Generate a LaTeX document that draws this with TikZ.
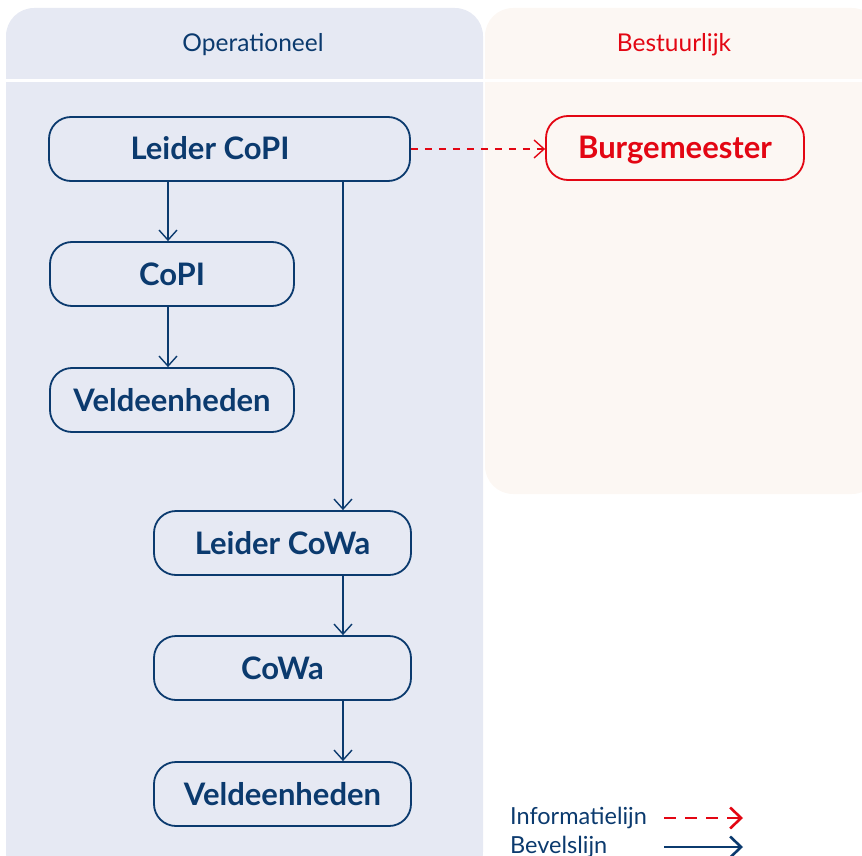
\documentclass[tikz,border=0pt]{standalone}
\usepackage{fontspec}
\setmainfont{Lato}
\usetikzlibrary{arrows.meta}
\definecolor{navy}{HTML}{0B3A6E}
\definecolor{bred}{HTML}{E30613}
\definecolor{opbg}{HTML}{E6E9F3}
\definecolor{bsbg}{HTML}{FCF7F3}
\tikzset{
  box/.style={draw=navy, line width=1.8pt, rounded corners=22pt, fill=opbg,
    minimum height=64pt, inner sep=0pt, text=navy, text height=22pt, text depth=0pt,
    font=\fontsize{31}{34}\selectfont\bfseries},
  redbox/.style={box, draw=bred, fill=bsbg, text=bred},
  cmd/.style={draw=navy, line width=1.4pt, -{Straight Barb[length=10pt,width=18pt,line width=1.4pt]}},
  info/.style={draw=bred, line width=1.4pt, dash pattern=on 7.5pt off 6.5pt, -{Straight Barb[length=10pt,width=18pt,line width=1.4pt]}},
  lgcmd/.style={draw=navy, line width=2.6pt, -{Straight Barb[length=11pt,width=21pt,line width=2.6pt]}},
  lginfo/.style={draw=bred, line width=2.6pt, dash pattern=on 12pt off 9pt, -{Straight Barb[length=11pt,width=21pt,line width=2.6pt]}},
  head/.style={font=\fontsize{24.5}{28}\selectfont, inner sep=0pt},
  legend/.style={font=\fontsize{23.5}{27}\selectfont, text=navy, inner sep=0pt, anchor=west}
}
\begin{document}
\begin{tikzpicture}[x=1pt,y=-1pt]
\useasboundingbox (0,0) rectangle (862,856);
% panels
\fill[opbg, rounded corners=28pt] (6,8) rectangle (483,880);
\fill[bsbg, rounded corners=28pt] (485,8) rectangle (880,494);
\draw[white, line width=3pt] (6,80.5) -- (862,80.5);
\node[head, text=navy] (hop) at (253,45) {Operationeel};
\node[head, text=bred] (hbs) at (674,45) {Bestuurlijk};
% nodes
\node[box, minimum width=361pt] (lcopi) at (229.5,149) {Leider CoPI\hspace*{39pt}};
\node[box, minimum width=244pt] (copi) at (172,274) {CoPI};
\node[box, minimum width=244pt] (veld1) at (172,400) {Veldeenheden};
\node[redbox, minimum width=258pt] (burg) at (675,148) {Burgemeester};
\node[box, minimum width=257pt] (lcowa) at (282.5,543) {Leider CoWa};
\node[box, minimum width=257pt] (cowa) at (282.5,668) {CoWa};
\node[box, minimum width=257pt] (veld2) at (282.5,794) {Veldeenheden};
% connectors
\draw[cmd] (lcopi.south -| copi.north) ++(-4,0) coordinate (a1) -- (a1 |- copi.north);
\draw[cmd] (copi.south -| a1) -- (a1 |- veld1.north);
\coordinate (b1) at (343,0);
\draw[cmd] (b1 |- lcopi.south) -- (b1 |- lcowa.north);
\draw[cmd] (b1 |- lcowa.south) -- (b1 |- cowa.north);
\draw[cmd] (b1 |- cowa.south) -- (b1 |- veld2.north);
\draw[info] (lcopi.east) -- (burg.west |- lcopi.east);
% legend
\node[legend] (li) at (510,818) {Informatielijn};
\node[legend] (lb) at (510,847) {Bevelslijn};
\coordinate (l1s) at (664,818);
\coordinate (l1e) at (743,818);
\coordinate (l2s) at (664,847);
\coordinate (l2e) at (743,847);
\draw[lginfo] (l1s) -- (l1e);
\draw[lgcmd] (l2s) -- (l2e);
\end{tikzpicture}
\end{document}
